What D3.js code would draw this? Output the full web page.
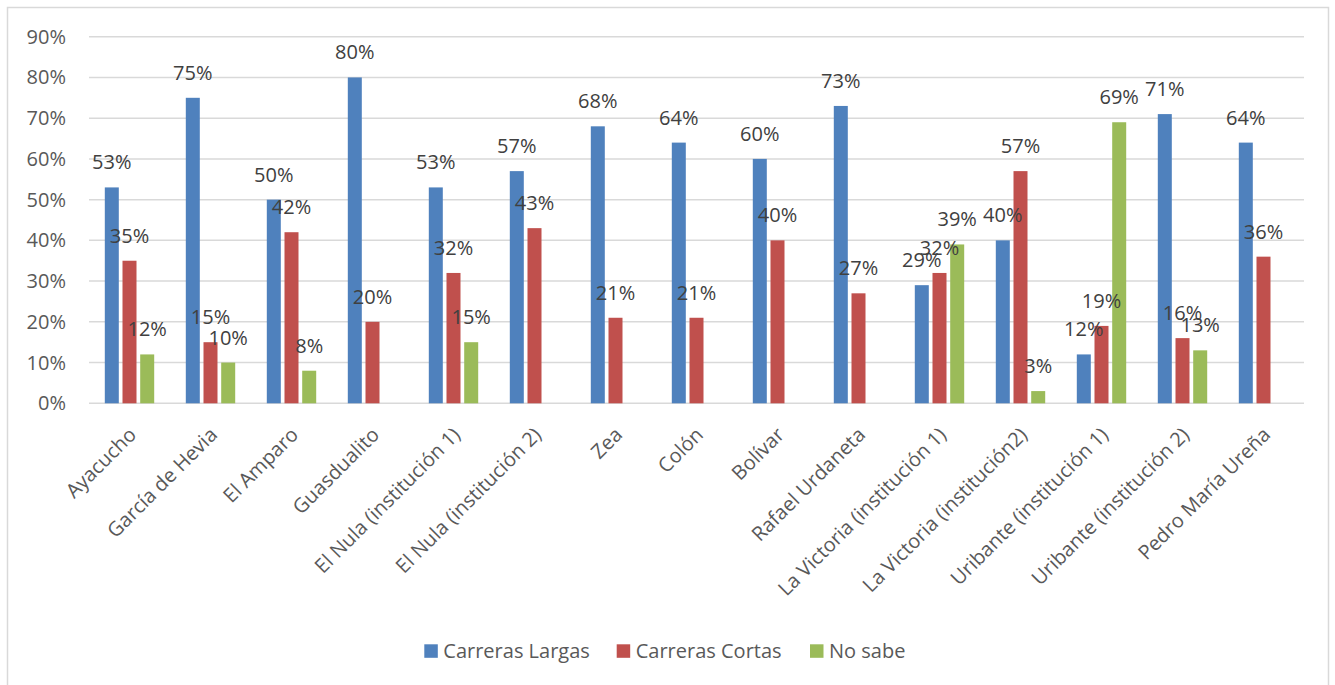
<!DOCTYPE html>
<html>
<head>
<meta charset="utf-8">
<script src="https://cdn.jsdelivr.net/npm/d3@7/dist/d3.min.js"></script>
<style>
  html, body { margin: 0; padding: 0; background: #fff; }
  svg { display: block; font-family: "Open Sans", "Liberation Sans", sans-serif; }
</style>
</head>
<body>
<svg id="chart" width="1335" height="685"></svg>
<script>
const categories = [
  "Ayacucho", "García de Hevia", "El Amparo", "Guasdualito",
  "El Nula (institución 1)", "El Nula (institución 2)", "Zea", "Colón",
  "Bolívar", "Rafael Urdaneta", "La Victoria (institución 1)",
  "La Victoria (institución2)", "Uribante (institución 1)",
  "Uribante (institución 2)", "Pedro María Ureña"
];
const seriesNames = ["Carreras Largas", "Carreras Cortas", "No sabe"];
const carrerasLargas = [53, 75, 50, 80, 53, 57, 68, 64, 60, 73, 29, 40, 12, 71, 64];
const carrerasCortas = [35, 15, 42, 20, 32, 43, 21, 21, 40, 27, 32, 57, 19, 16, 36];
const noSabe         = [12, 10, 8, 0, 15, 0, 0, 0, 0, 0, 39, 3, 69, 13, 0];
const yTicks = [0, 10, 20, 30, 40, 50, 60, 70, 80, 90];
const colors = ["#4F81BD", "#C0504D", "#9BBB59"];

const seriesValues = [carrerasLargas, carrerasCortas, noSabe];
const data = categories.map((c, i) => ({
  cat: c,
  vals: seriesNames.map((s, j) => ({ series: s, idx: j, value: seriesValues[j][i] }))
}));

const svg = d3.select("#chart");

// outer border
svg.append("rect")
  .attr("x", 7.5).attr("y", 7.5)
  .attr("width", 1321).attr("height", 690)
  .attr("fill", "none").attr("stroke", "#D9D9D9").attr("stroke-width", 1.5);

const plot = { left: 89, right: 1304, top: 36.7, bottom: 403.3 };

const x = d3.scaleBand().domain(categories).range([plot.left, plot.right]).padding(0);
const inner = d3.scaleBand().domain(seriesNames).range([0, 49.4]).paddingInner(0.209).paddingOuter(0);
const y = d3.scaleLinear().domain([0, 90]).range([plot.bottom, plot.top]);

// gridlines
svg.append("g").selectAll("line").data(yTicks).join("line")
  .attr("x1", plot.left).attr("x2", plot.right)
  .attr("y1", d => y(d)).attr("y2", d => y(d))
  .attr("stroke", "#D9D9D9").attr("stroke-width", 1.5);

// y tick labels
svg.append("g").selectAll("text").data(yTicks).join("text")
  .attr("x", 66).attr("y", d => y(d) + 7)
  .attr("text-anchor", "end")
  .attr("font-size", 20).attr("fill", "#595959")
  .text(d => d + "%");

// bars
const groups = svg.append("g").selectAll("g").data(data).join("g")
  .attr("transform", d => `translate(${x(d.cat) + (x.bandwidth() - 49.4) / 2},0)`);

groups.selectAll("rect").data(d => d.vals.filter(v => v.value > 0)).join("rect")
  .attr("x", v => inner(v.series))
  .attr("width", inner.bandwidth())
  .attr("y", v => y(v.value))
  .attr("height", v => y(0) - y(v.value))
  .attr("fill", v => colors[v.idx]);

// data labels
groups.selectAll("text").data(d => d.vals.filter(v => v.value > 0)).join("text")
  .attr("x", v => inner(v.series) + inner.bandwidth() / 2)
  .attr("y", v => y(v.value) - 18)
  .attr("text-anchor", "middle")
  .attr("font-size", 20).attr("fill", "#404040")
  .text(v => v.value + "%");

// category labels
svg.append("g").selectAll("text").data(categories).join("text")
  .attr("transform", d => `translate(${x(d) + x.bandwidth() / 2 + 8},436) rotate(-45)`)
  .attr("text-anchor", "end")
  .attr("font-size", 20).attr("fill", "#595959")
  .text(d => d);

// legend
const legendX = [424.3, 616.7, 810];
const leg = svg.append("g").selectAll("g").data(seriesNames).join("g")
  .attr("transform", (d, i) => `translate(${legendX[i]},644.3)`);
leg.append("rect").attr("width", 13.5).attr("height", 13.5).attr("fill", (d, i) => colors[i]);
leg.append("text").attr("x", 19).attr("y", 14)
  .attr("font-size", 20).attr("fill", "#595959").text(d => d);
</script>
</body>
</html>
